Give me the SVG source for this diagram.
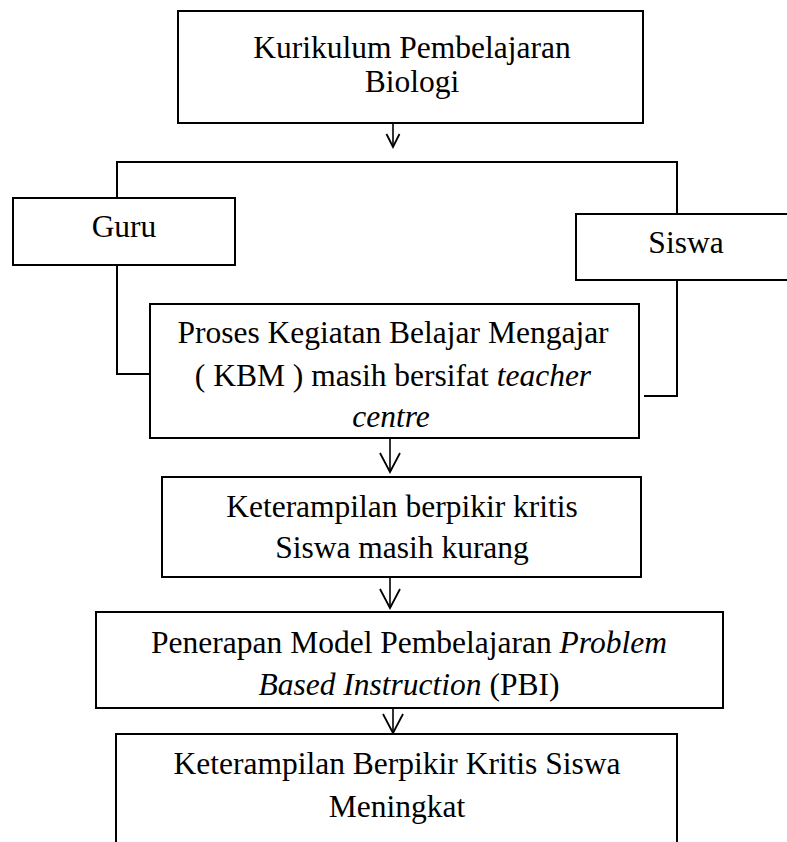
<svg xmlns="http://www.w3.org/2000/svg" width="787" height="842" viewBox="0 0 787 842">
<style>
.box{fill:#fff;stroke:#000;stroke-width:2}
.con{fill:none;stroke:#000;stroke-width:2}
.arr{fill:none;stroke:#000;stroke-width:1.6}
text{font-family:"Liberation Serif","Times New Roman",serif;font-size:31.5px;fill:#000;text-anchor:middle}
.it{font-style:italic}
</style>
<defs>
<marker id="vbig" markerUnits="userSpaceOnUse" viewBox="-2 -12 24 24" refX="19" refY="0" markerWidth="24" markerHeight="24" orient="auto" overflow="visible">
<path d="M0,-10 L19,0 L0,10" fill="none" stroke="#000" stroke-width="1.8"/>
</marker>
<marker id="vsmall" markerUnits="userSpaceOnUse" viewBox="-2 -8 18 16" refX="13" refY="0" markerWidth="18" markerHeight="16" orient="auto" overflow="visible">
<path d="M0,-6.5 L13,0 L0,6.5" fill="none" stroke="#000" stroke-width="1.8"/>
</marker>
</defs>
<rect width="787" height="842" fill="#fff"/>
<g id="connectors">
<path class="arr" d="M393,123 V147" marker-end="url(#vsmall)"/>
<path class="con" d="M117,198 V162 H677 V214"/>
<path class="con" d="M117,265 V374 H150"/>
<path class="con" d="M677,280 V396 H644"/>
<path class="arr" d="M390,438 V472" marker-end="url(#vbig)"/>
<path class="arr" d="M390,577 V608" marker-end="url(#vbig)"/>
<path class="arr" d="M393,708 V733" marker-end="url(#vbig)"/>
</g>
<g id="kurikulum">
<rect class="box" x="178" y="11" width="465" height="112"/>
<text x="412" y="58">Kurikulum Pembelajaran</text>
<text x="412" y="92">Biologi</text>
</g>
<g id="guru">
<rect class="box" x="13" y="198" width="222" height="67"/>
<text x="124" y="237">Guru</text>
</g>
<g id="siswa">
<rect class="box" x="576" y="214" width="230" height="66"/>
<text x="686" y="253">Siswa</text>
</g>
<g id="proses">
<rect class="box" x="150" y="304" width="489" height="134"/>
<text x="393" y="343">Proses Kegiatan Belajar Mengajar</text>
<text x="393" y="386">( KBM ) masih bersifat <tspan class="it">teacher</tspan></text>
<text x="391" y="427" class="it">centre</text>
</g>
<g id="keterampilan">
<rect class="box" x="162" y="477" width="479" height="100"/>
<text x="402" y="517">Keterampilan berpikir kritis</text>
<text x="402" y="558">Siswa masih kurang</text>
</g>
<g id="penerapan">
<rect class="box" x="96" y="612" width="627" height="96"/>
<text x="409" y="653">Penerapan Model Pembelajaran <tspan class="it">Problem</tspan></text>
<text x="409" y="695"><tspan class="it">Based Instruction</tspan> (PBI)</text>
</g>
<g id="meningkat">
<rect class="box" x="116" y="734" width="561" height="130"/>
<text x="397" y="774">Keterampilan Berpikir Kritis Siswa</text>
<text x="397" y="817">Meningkat</text>
</g>
</svg>
